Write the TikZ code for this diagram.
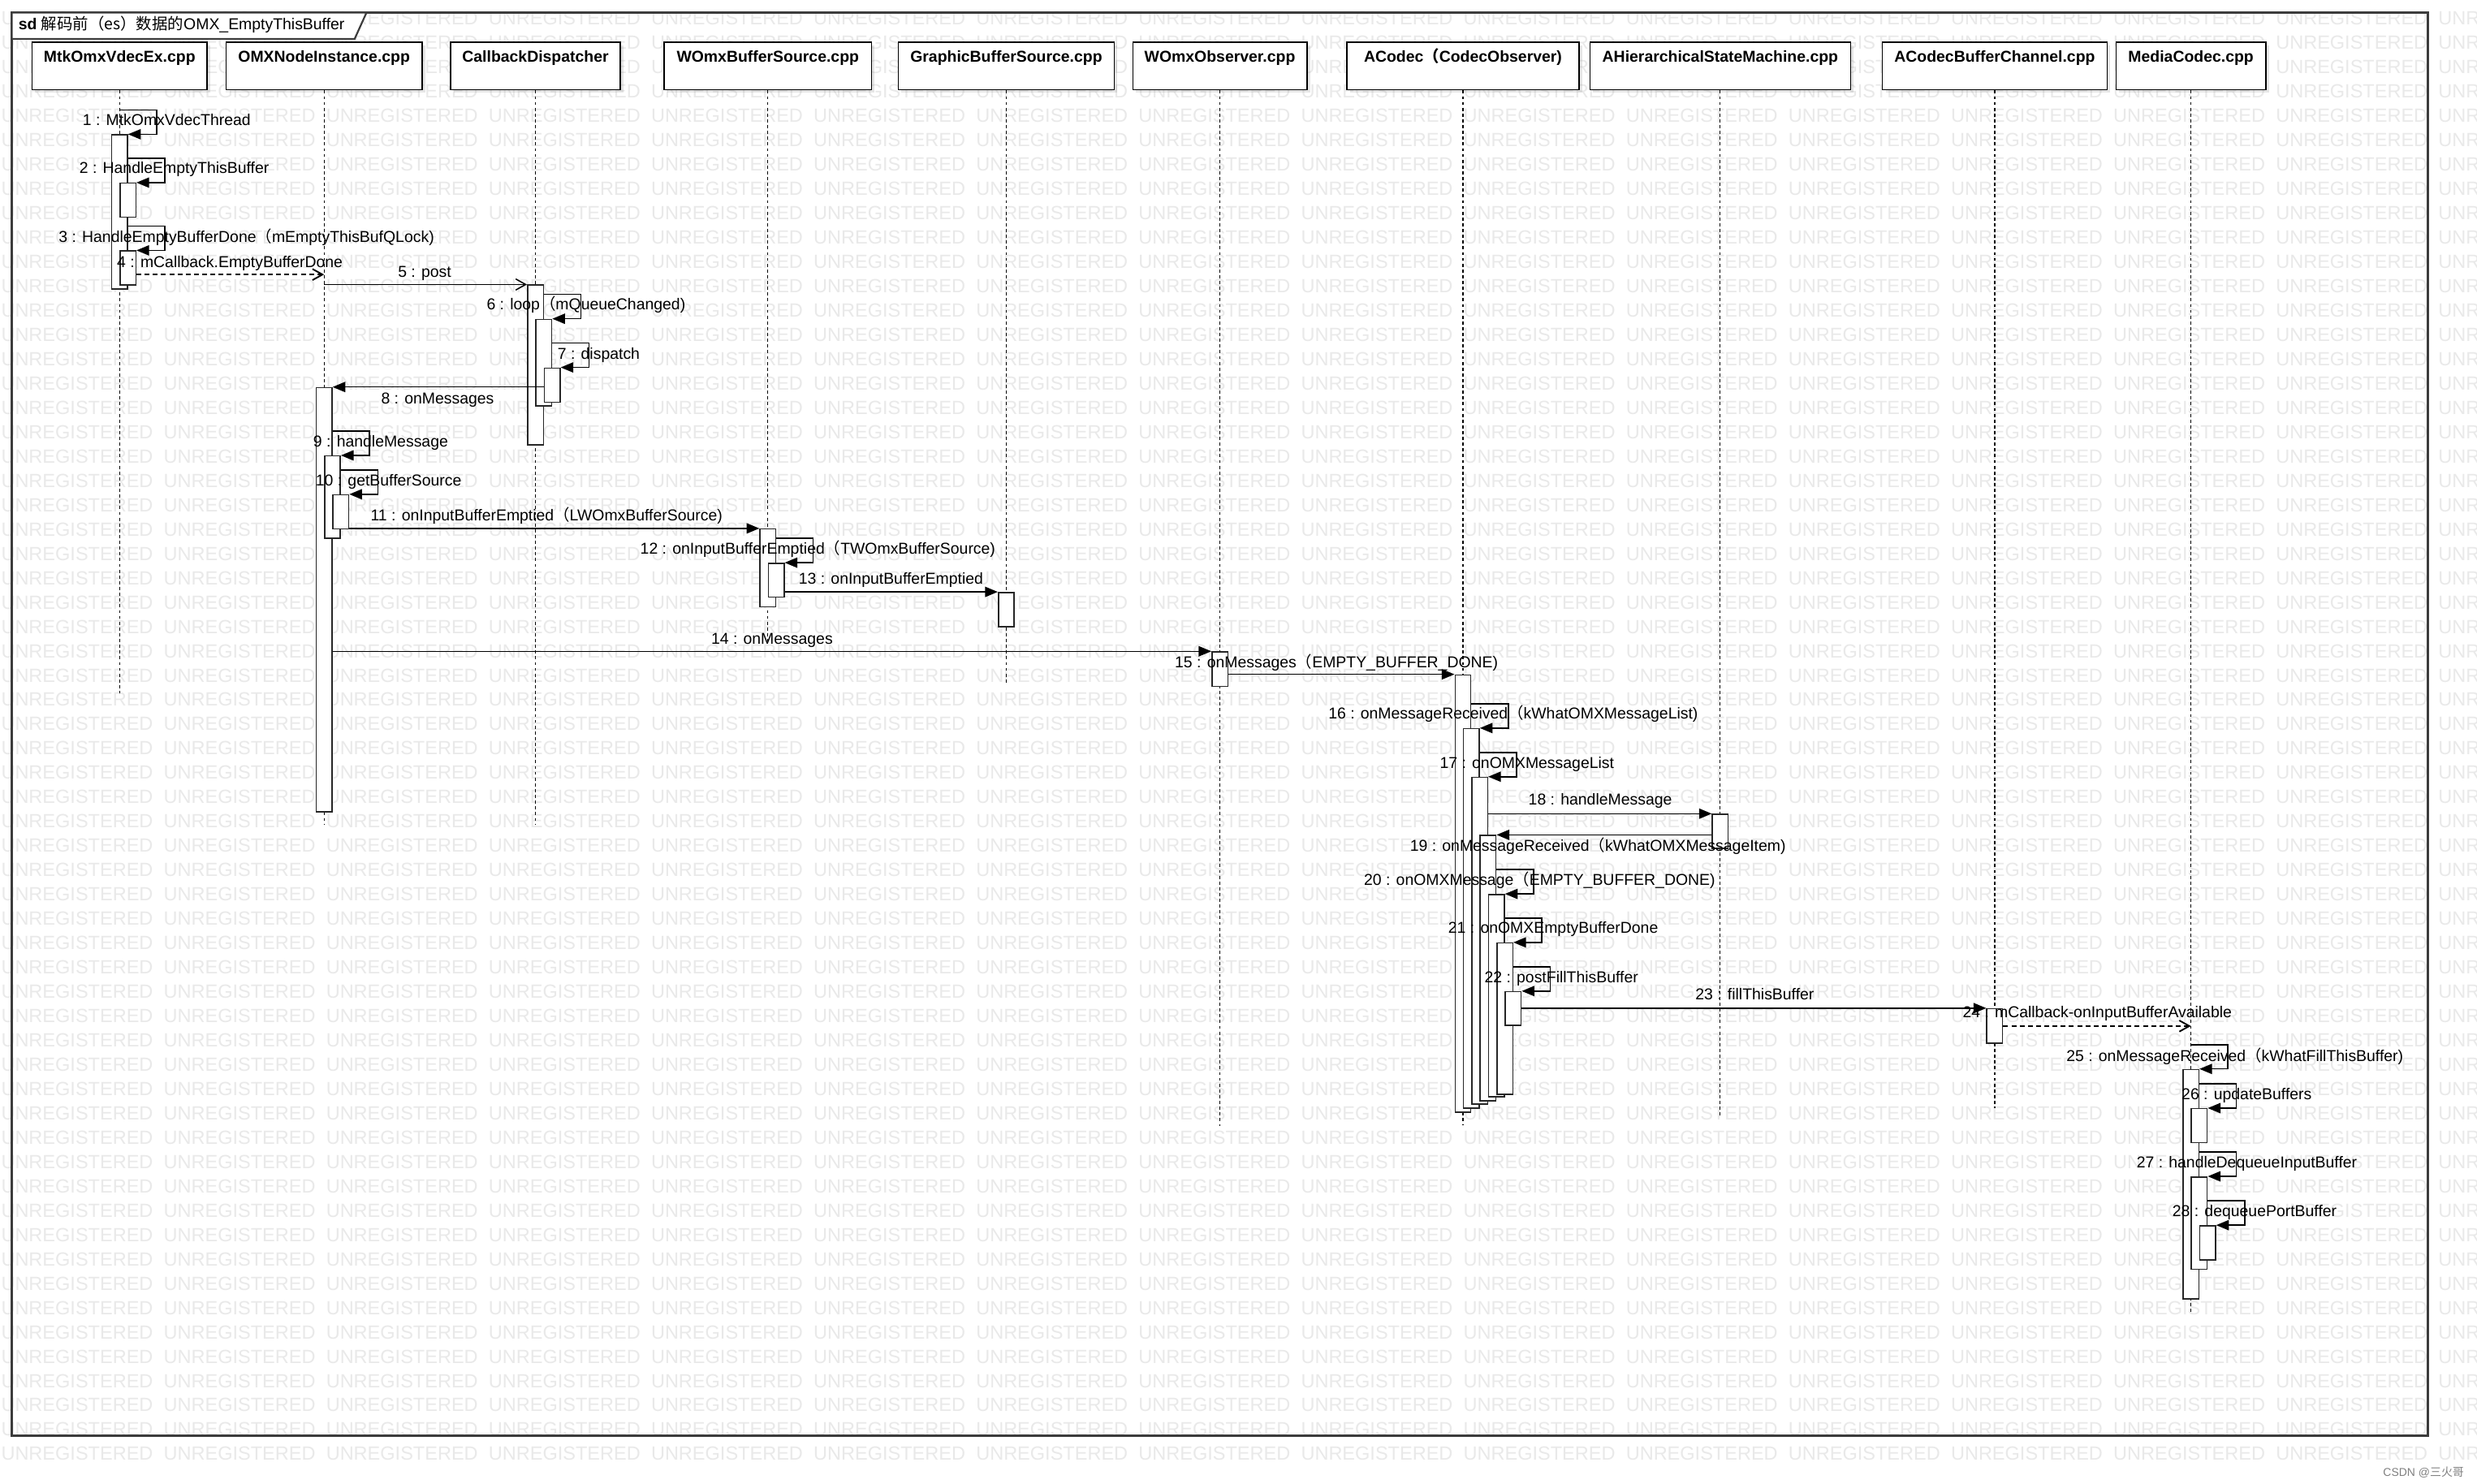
\documentclass[tikz,border=0pt]{standalone}
\usepackage{fontspec}
\setmainfont{Liberation Sans}
\newfontfamily\cjk{Noto Sans CJK SC}
\usetikzlibrary{arrows.meta,calc,shadows}
\definecolor{wmgray}{RGB}{233,233,233}
\definecolor{framegray}{RGB}{60,60,60}
\newcommand{\fwp}{{\cjk （}}
% self message: from a lifeline / bar to the nested bar below it
\newcommand{\selfcall}[2]{\draw[msg] ($(#1 |- #2.north)+(0,-15.4)$) -| ($(#2.north east)+(18,0)$) -- (#2.north east);}
% activation bar: name, participant, nesting level, top, bottom
\newcommand{\actbar}[5]{\node[act, minimum height={(#5-#4)*0.25mm}, xshift={#3*1.325mm}] (#1) at (#2 |- 0,#4) {};}
\tikzset{
  wm/.style={text=wmgray, font=\fontsize{8.6}{9}\selectfont, inner sep=0pt, anchor=base west},
  part/.style={draw=black, line width=0.6pt, fill=white, inner sep=0pt, anchor=north,
    font=\bfseries\fontsize{7.1}{8}\selectfont, text height=3.2mm, text depth=4.35mm,
    drop shadow={shadow xshift=0.5mm, shadow yshift=-0.5mm, opacity=0.2}},
  act/.style={draw=black!85, line width=0.55pt, fill=white, inner sep=0pt, minimum width=2.5mm, anchor=north},
  lifeline/.style={line width=0.4pt, dash pattern=on 1.4pt off 1.2pt},
  msg/.style={line width=0.55pt, -{Triangle[length=5.7pt,width=4.6pt]}},
  async/.style={line width=0.55pt, -{Straight Barb[length=4.5pt,width=5pt]}},
  ret/.style={async, line width=0.7pt, dash pattern=on 2.2pt off 1.5pt},
  lbl/.style={font=\fontsize{7.1}{8}\selectfont, inner sep=0pt, anchor=base, yshift=-0.9mm},
}
\begin{document}
\begin{tikzpicture}[x=0.25mm, y=-0.25mm]
\useasboundingbox (0,0) rectangle (1568,939);
\fill[white] (0,0) rectangle (1568,939);
% watermark
\foreach \r in {0,...,59}
  \foreach \c in {0,...,15}
    \node[wm] (wm-\r-\c) at (0.5+102.85*\c, 15.9+15.4*\r) {UNREGISTERED};
\node[anchor=east, inner sep=0pt, text=black!50, font=\fontsize{5.1}{6}\selectfont] (csdn) at (1560,932) {CSDN @{\cjk 三火哥}};

% frame and title tab
\draw[framegray, line width=1pt] (7.5,8) rectangle (1537,909);
\draw[framegray, line width=0.8pt, fill=white] (7.5,8) -- (232,8) -- (224.5,24.6) -- (7.5,24.6) -- cycle;
\node[anchor=west, inner sep=0pt, font=\fontsize{7.1}{8}\selectfont] (title) at (11.5,15.7)
  {\textbf{sd} {\cjk 解码前（es）数据的}OMX\_EmptyThisBuffer};

% participants
\node[part, minimum width=27.7mm] (mtk) at (75.7,26.2) {MtkOmxVdecEx.cpp};
\node[part, minimum width=30.98mm] (omx) at (205.15,26.2) {OMXNodeInstance.cpp};
\node[part, minimum width=26.88mm] (cbd) at (338.95,26.2) {CallbackDispatcher};
\node[part, minimum width=32.78mm] (wbs) at (486.05,26.2) {WOmxBufferSource.cpp};
\node[part, minimum width=34.15mm] (gbs) at (637,26.2) {GraphicBufferSource.cpp};
\node[part, minimum width=27.55mm] (wob) at (772.2,26.2) {WOmxObserver.cpp};
\node[part, minimum width=36.8mm] (acodec) at (926.1,26.2) {ACodec\fwp CodecObserver)};
\node[part, minimum width=41.23mm] (ahsm) at (1088.95,26.2) {AHierarchicalStateMachine.cpp};
\node[part, minimum width=35.55mm] (acbc) at (1262.7,26.2) {ACodecBufferChannel.cpp};
\node[part, minimum width=23.65mm] (mc) at (1386.9,26.2) {MediaCodec.cpp};

% lifelines
\foreach \p/\e in {mtk/438.8, omx/522, cbd/522, wbs/406, gbs/433, wob/713, acodec/712, ahsm/707, acbc/701.5, mc/831}
  \draw[lifeline] (\p.south) -- (\p.south |- 0,\e);

% activation bars
\actbar{a1}{mtk}{0}{85}{182.5}
\actbar{a2}{mtk}{1}{115.6}{137}
\actbar{a3}{mtk}{1}{158.5}{180.1}
\actbar{a5}{cbd}{0}{180.1}{281.2}
\actbar{a6}{cbd}{1}{201.8}{256.6}
\actbar{a7}{cbd}{2}{232.6}{254.3}
\actbar{a8}{omx}{0}{245}{513.6}
\actbar{a9}{omx}{1}{288.3}{340.4}
\actbar{a10}{omx}{2}{312.9}{334.5}
\actbar{a11}{wbs}{0}{334.5}{383.7}
\actbar{a12}{wbs}{1}{356.2}{377.6}
\actbar{a13}{gbs}{0}{374.7}{396.3}
\actbar{a14}{wob}{0}{412.3}{434.1}
\actbar{a15}{acodec}{0}{426.9}{703.6}
\actbar{a16}{acodec}{1}{460.9}{701.2}
\actbar{a17}{acodec}{2}{491.7}{698.6}
\actbar{a18}{ahsm}{0}{515.1}{536.6}
\actbar{a19}{acodec}{3}{528.5}{696.5}
\actbar{a20}{acodec}{4}{565.9}{693.9}
\actbar{a21}{acodec}{5}{596.6}{692.5}
\actbar{a22}{acodec}{6}{627.4}{648.7}
\actbar{a23}{acbc}{0}{638.2}{660.1}
\actbar{a25}{mc}{0}{676.7}{821.8}
\actbar{a26}{mc}{1}{701.5}{722.9}
\actbar{a27}{mc}{1}{744.7}{803.1}
\actbar{a28}{mc}{2}{775.6}{797.1}

% messages
\selfcall{mtk}{a1}
\selfcall{a1.east}{a2}
\selfcall{a1.east}{a3}
\coordinate (m4e) at (omx |- 0,173.8);
\draw[ret] (a3.east |- m4e) -- (m4e);
\draw[async] (omx |- a5.north) -- (a5.north west);
\selfcall{a5.east}{a6}
\selfcall{a6.east}{a7}
\draw[msg] (a7.west |- a8.north) -- (a8.north east);
\selfcall{a8.east}{a9}
\selfcall{a9.east}{a10}
\draw[msg] (a10.east |- a11.north) -- (a11.north west);
\selfcall{a11.east}{a12}
\draw[msg] (a12.east |- a13.north) -- (a13.north west);
\draw[msg] (a8.east |- a14.north) -- (a14.north west);
\draw[msg] (a14.east |- a15.north) -- (a15.north west);
\selfcall{a15.east}{a16}
\selfcall{a16.east}{a17}
\draw[msg] (a17.east |- a18.north) -- (a18.north west);
\draw[msg] (a18.west |- a19.north) -- (a19.north east);
\selfcall{a19.east}{a20}
\selfcall{a20.east}{a21}
\selfcall{a21.east}{a22}
\draw[msg] (a22.east |- a23.north) -- (a23.north west);
\draw[ret] (a23.east) -- (mc |- a23.east);
\selfcall{mc}{a25}
\selfcall{a25.east}{a26}
\selfcall{a25.east}{a27}
\selfcall{a27.east}{a28}

% message labels
\node[lbl] (l1) at (105.5,75.7) {1 : MtkOmxVdecThread};
\node[lbl] (l2) at (110.3,106.2) {2 : HandleEmptyThisBuffer};
\node[lbl] (l3) at (156,149.9) {3 : HandleEmptyBufferDone\fwp mEmptyThisBufQLock)};
\node[lbl] (l4) at (145.5,165.8) {4 : mCallback.EmptyBufferDone};
\node[lbl] (l5) at (268.8,172) {5 : post};
\node[lbl] (l6) at (371,192.7) {6 : loop\fwp mQueueChanged)};
\node[lbl] (l7) at (379,223.6) {7 : dispatch};
\node[lbl] (l8) at (277,252.1) {8 : onMessages};
\node[lbl] (l9) at (241,279.1) {9 : handleMessage};
\node[lbl] (l10) at (246,304) {10 : getBufferSource};
\node[lbl] (l11) at (346,326.3) {11 : onInputBufferEmptied\fwp LWOmxBufferSource)};
\node[lbl] (l12) at (517.7,347.3) {12 : onInputBufferEmptied\fwp TWOmxBufferSource)};
\node[lbl] (l13) at (564,366.1) {13 : onInputBufferEmptied};
\node[lbl] (l14) at (488.7,404.3) {14 : onMessages};
\node[lbl] (l15) at (846,418.9) {15 : onMessages\fwp EMPTY\_BUFFER\_DONE)};
\node[lbl] (l16) at (957.9,451.7) {16 : onMessageReceived\fwp kWhatOMXMessageList)};
\node[lbl] (l17) at (966.6,482.8) {17 : onOMXMessageList};
\node[lbl] (l18) at (1013,506.1) {18 : handleMessage};
\node[lbl] (l19) at (1011.5,535.4) {19 : onMessageReceived\fwp kWhatOMXMessageItem)};
\node[lbl] (l20) at (974.6,556.9) {20 : onOMXMessage\fwp EMPTY\_BUFFER\_DONE)};
\node[lbl] (l21) at (983.2,587.4) {21 : onOMXEmptyBufferDone};
\node[lbl] (l22) at (988.4,618.3) {22 : postFillThisBuffer};
\node[lbl] (l23) at (1110.8,629.5) {23 : fillThisBuffer};
\node[lbl] (l24) at (1327.6,640.7) {24 : mCallback-onInputBufferAvailable};
\node[lbl] (l25) at (1414.7,668.1) {25 : onMessageReceived\fwp kWhatFillThisBuffer)};
\node[lbl] (l26) at (1422.2,692.6) {26 : updateBuffers};
\node[lbl] (l27) at (1422.3,735.8) {27 : handleDequeueInputBuffer};
\node[lbl] (l28) at (1427.2,766.6) {28 : dequeuePortBuffer};
\end{tikzpicture}
\end{document}
